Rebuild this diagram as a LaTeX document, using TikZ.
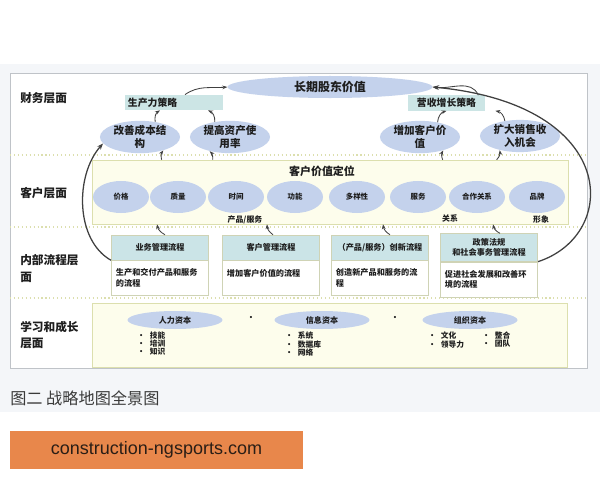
\documentclass[tikz,border=0pt]{standalone}
\usepackage{fontspec}
\setmainfont{Noto Sans CJK SC}
\newfontfamily\urlfont{Liberation Sans}
\usetikzlibrary{arrows.meta,positioning,calc,shapes.geometric}
\definecolor{pagegray}{HTML}{F4F6F9}
\definecolor{framegray}{HTML}{BFC3C8}
\definecolor{ovalblue}{HTML}{C4D2EC}
\definecolor{stratteal}{HTML}{CCE5E5}
\definecolor{headteal}{HTML}{CBE4E7}
\definecolor{layerfill}{HTML}{FDFDEC}
\definecolor{layerline}{HTML}{DCDFAE}
\definecolor{boxline}{HTML}{CFD3B5}
\definecolor{inkdark}{HTML}{1E1E1E}
\definecolor{captiongray}{HTML}{3A3A3A}
\definecolor{tagorange}{HTML}{E8874B}
\definecolor{urltext}{HTML}{2A1E16}
\newcommand{\bul}{\makebox[9pt][l]{•}}

\begin{document}
\begin{tikzpicture}[
    x=0.025cm, y=-0.025cm,
    layerlabel/.style={anchor=west, inner sep=0pt, align=left, font=\fontsize{8.3}{12}\selectfont\bfseries, text=inkdark},
    valueoval/.style={ellipse, fill=ovalblue, minimum width=5.12cm, minimum height=0.55cm, inner sep=0pt, font=\fontsize{8.5}{9}\selectfont\bfseries, text=inkdark},
    stratbox/.style={rectangle, fill=stratteal, minimum height=0.36cm, inner sep=2pt, font=\fontsize{7}{8}\selectfont\bfseries, text=inkdark},
    goaloval/.style={ellipse, fill=ovalblue, minimum width=2cm, minimum height=0.75cm, inner sep=0pt, align=center, font=\fontsize{7.5}{9}\selectfont\bfseries, text=inkdark},
    layerbox/.style={rectangle, draw=layerline, fill=layerfill},
    needoval/.style={ellipse, fill=ovalblue, minimum width=1.4cm, minimum height=0.8cm, inner sep=0pt, font=\fontsize{5.3}{6}\selectfont\bfseries, text=inkdark},
    smalltag/.style={inner sep=0pt, font=\fontsize{5.6}{6}\selectfont\bfseries, text=inkdark},
    prochead/.style={rectangle, draw=boxline, fill=headteal, minimum width=2.35cm, minimum height=0.625cm, text width=2.2cm, align=center, font=\fontsize{5.8}{7.5}\selectfont\bfseries, text=inkdark},
    procbody/.style={rectangle, draw=boxline, fill=white, minimum width=2.35cm, minimum height=0.875cm, text width=2.2cm, align=left, font=\fontsize{5.8}{7.5}\selectfont\bfseries, text=inkdark},
    capoval/.style={ellipse, fill=ovalblue, minimum width=2.375cm, minimum height=0.45cm, inner sep=0pt, font=\fontsize{5.7}{6}\selectfont\bfseries, text=inkdark},
    caplist/.style={anchor=north west, inner sep=0pt, align=left, font=\fontsize{5.5}{5.7}\selectfont\bfseries, text=inkdark},
    arrow/.style={-{Stealth[length=3.5pt]}, line width=0.6pt, color=inkdark!85},
    bigarrow/.style={-{Stealth[length=4.5pt]}, line width=0.9pt, color=inkdark!85},
    sepline/.style={dotted, line width=0.8pt, color=layerline},
]
\useasboundingbox (0,0) rectangle (600,480);

% --- Page and frame ---
\fill[pagegray] (0,64) rectangle (600,412);
\draw[framegray, fill=white] (10,73) rectangle (587,368);
\draw[sepline] (10,155) -- (587,155);
\draw[sepline] (10,227) -- (587,227);
\draw[sepline] (10,298) -- (587,298);

% --- Layer labels ---
\node[layerlabel] (finlabel) at (20,98) {财务层面};
\node[layerlabel] (custlabel) at (20,193) {客户层面};
\node[layerlabel] (proclabel) at (20,268.5) {内部流程层\\面};
\node[layerlabel] (learnlabel) at (20,335) {学习和成长\\层面};

% --- Financial layer ---
\node[valueoval] (value) at (330,87) {长期股东价值};
\node[stratbox, text width=2.3cm, align=left] (prod) at (174,102.5) {生产力策略};
\node[stratbox, minimum width=1.93cm] (rev) at (446.5,103) {营收增长策略};
\node[goaloval] (cost) at (140,137) {改善成本结\\构};
\node[goaloval] (asset) at (230,137) {提高资产使\\用率};
\node[goaloval] (custval) at (420,137) {增加客户价\\值};
\node[goaloval] (sales) at (520,136) {扩大销售收\\入机会};

% --- Customer layer ---
\node[layerbox, minimum width=11.9cm, minimum height=1.6cm] (needs) at (330,192) {};
\node[font=\fontsize{7.8}{8}\selectfont\bfseries, text=inkdark, inner sep=0pt] (needtitle) at (322,171) {客户价值定位};
\node[needoval] (price) at (121,197) {价格};
\node[needoval] (quality) at (178,197) {质量};
\node[needoval] (timing) at (236,197) {时间};
\node[needoval] (function) at (295,197) {功能};
\node[needoval] (variety) at (357,197) {多样性};
\node[needoval] (service) at (418,197) {服务};
\node[needoval] (partner) at (477,197) {合作关系};
\node[needoval] (brand) at (537,197) {品牌};
\node[smalltag] (tagprod) at (245,220) {产品/服务};
\node[smalltag] (tagrel) at (450,218) {关系};
\node[smalltag] (tagimg) at (541,220) {形象};

% --- Internal process layer ---
\node[prochead] (h1) at (160,247.5) {业务管理流程};
\node[procbody, below=0pt of h1] (b1) {生产和交付产品和服务\\的流程};
\node[prochead] (h2) at (271,247.5) {客户管理流程};
\node[procbody, below=0pt of h2] (b2) {增加客户价值的流程\\\mbox{}};
\node[prochead] (h3) at (380,247.5) {（产品/服务）创新流程};
\node[procbody, below=0pt of h3] (b3) {创造新产品和服务的流\\程};
\node[prochead] (h4) at (489,247.5) {政策法规\\和社会事务管理流程};
\node[procbody, below=0pt of h4] (b4) {促进社会发展和改善环\\境的流程};

% --- Learning and growth layer ---
\node[layerbox, minimum width=11.875cm, minimum height=1.6cm] (caps) at (329.5,335) {};
\node[capoval] (human) at (175,320) {人力资本};
\node[capoval] (info) at (322,320) {信息资本};
\node[capoval] (org) at (470,320) {组织资本};
\node[smalltag] (dot1) at (251,318) {•};
\node[smalltag] (dot2) at (395,318) {•};
\node[caplist] (humanlist) at (137,332) {\bul 技能\\\bul 培训\\\bul 知识};
\node[caplist] (infolist) at (285,332) {\bul 系统\\\bul 数据库\\\bul 网络};
\node[caplist] (orglist) at (428,332) {\bul 文化\\\bul 领导力};
\node[caplist] (orglist2) at (482,332) {\bul 整合\\\bul 团队};

% --- Arrows ---
\draw[arrow] ($(prod.north)+(11,0)$) to[out=35,in=185] (value.west);
\draw[arrow] ($(rev.north east)+(-7,0)$) to[out=115,in=-8] (value.east);
\draw[bigarrow] (h4.south east) .. controls (620,235) and (620,105) .. (value.east);
\draw[bigarrow] (h1.south west) .. controls (75,240) and (75,175) .. (cost.190);
\draw[arrow] (cost.45) to[bend left=35] ($(prod.south)+(-14,0)$);
\draw[arrow] (asset.135) to[bend right=35] ($(prod.south)+(34,0)$);
\draw[arrow] (custval.40) to[bend left=35] (rev.south);
\draw[arrow] (sales.135) to[bend right=35] ($(rev.south east)+(10,0)$);
\draw[arrow] ($(needs.north west)+(70,0)$) to[bend left=25] (cost.-30);
\draw[arrow] ($(needs.north west)+(121,0)$) to[bend right=25] (asset.-145);
\draw[arrow] ($(needs.north west)+(351,0)$) to[bend left=25] (custval.-30);
\draw[arrow] ($(needs.north west)+(405,0)$) to[bend right=25] (sales.-145);
\draw[arrow] ($(h1.north)+(5,0)$) to[bend left=25] ($(h1.north |- needs.south)+(-3,0)$);
\draw[arrow] ($(h2.north)+(2,0)$) to[bend left=25] ($(h2.north |- needs.south)+(-4,0)$);
\draw[arrow] ($(h3.north)+(10,0)$) to[bend left=25] ($(h3.north |- needs.south)+(3,0)$);
\draw[arrow] ($(h4.north)+(11,0)$) to[bend left=25] ($(h4.north |- needs.south)+(4,0)$);

% --- Caption and tag ---
\node[anchor=west, inner sep=0pt, font=\fontsize{11.5}{12}\selectfont, text=captiongray] (caption) at (10,398) {图二 战略地图全景图};
\node[fill=tagorange, minimum width=7.325cm, minimum height=0.95cm, inner sep=0pt, font=\urlfont\fontsize{12.8}{14}\selectfont, text=urltext] (site) at (156.5,450) {construction-ngsports.com};

\end{tikzpicture}
\end{document}
